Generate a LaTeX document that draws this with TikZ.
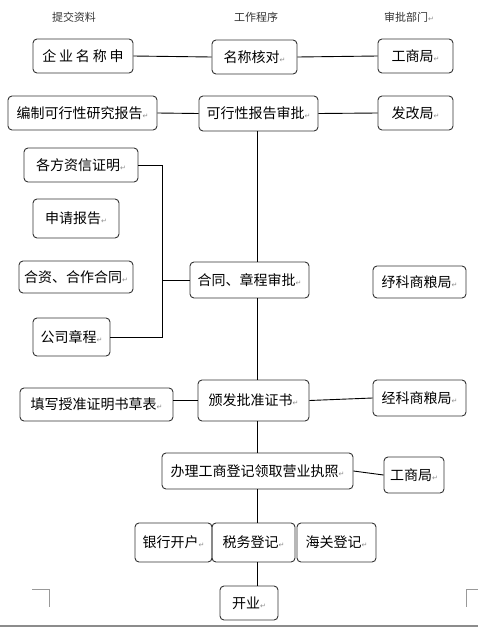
\documentclass[tikz,border=0pt]{standalone}
\usepackage{fontspec}
\newfontfamily\cjk{Noto Sans CJK SC}
\newfontfamily\symf{DejaVu Sans}
\newcommand{\ret}{{\symf\fontsize{7}{7}\selectfont\color{black!45}\char"21B5}}

\begin{document}
\begin{tikzpicture}[x=1pt,y=-1pt,
  b/.style={draw=black!80,line width=0.9pt,rounded corners=4pt,inner sep=0pt,font=\cjk\fontsize{14}{16}\selectfont},
  sz/.style 2 args={minimum width=#1pt,minimum height=#2pt},
  e/.style={draw=black,line width=0.9pt},
  hd/.style={font=\cjk\fontsize{11}{12}\selectfont,text=black!80,inner sep=0pt},
  mk/.style={draw=black!40,line width=0.8pt}]
  \useasboundingbox (0,0) rectangle (478,627);
  % column heads
  \node[hd] (h1) at (74,17) {提交资料};
  \node[hd] (h2) at (256,17) {工作程序};
  \node[hd] (h3) at (409,17) {审批部门\ret};
  % work steps
  \node[b,sz={85}{34}] (p1) at (254.5,57) {名称核对\ret};
  \node[b,sz={119}{35}] (p2) at (258.5,113.5) {可行性报告审批\ret};
  \node[b,sz={119}{36}] (p3) at (249.5,280) {合同、章程审批\ret};
  \node[b,sz={111}{41}] (p4) at (253.5,400.5) {颁发批准证书\ret};
  \node[b,sz={191}{36}] (p5) at (257.5,471) {办理工商登记领取营业执照\ret};
  \node[b,sz={77}{39}] (b1) at (173.5,542.5) {银行开户\ret};
  \node[b,sz={83}{39}] (b2) at (253.5,542.5) {税务登记\ret};
  \node[b,sz={79}{39}] (b3) at (336.5,542.5) {海关登记\ret};
  \node[b,sz={58}{34}] (p6) at (249,603) {开业\ret};
  % documents
  \node[b,sz={100}{34}] (n1) at (83,56) {\addfontfeature{LetterSpace=20}企业名称申};
  \node[b,sz={149}{34}] (n2) at (82.5,113) {编制可行性研究报告\ret};
  \node[b,sz={114}{34}] (m1) at (81,165) {各方资信证明\ret};
  \node[b,sz={86}{39}] (m2) at (76,218.5) {申请报告\ret};
  \node[b,sz={114}{32}] (m3) at (76,277) {合资、合作合同\ret};
  \node[b,sz={77}{38}] (m4) at (71.5,337) {公司章程\ret};
  \node[b,sz={153}{33}] (n5) at (96.5,404.5) {填写授准证明书草表\ret};
  % offices
  \node[b,sz={75}{34}] (d1) at (415.5,56) {工商局\ret};
  \node[b,sz={75}{34}] (d2) at (415.5,113) {发改局\ret};
  \node[b,sz={93}{32}] (d3) at (419.5,282) {纾科商粮局\ret};
  \node[b,sz={93}{36}] (d4) at (419.5,398) {经科商粮局\ret};
  \node[b,sz={60}{36}] (d5) at (414,475) {工商局\ret};
  % connectors
  \coordinate (sp) at (257,0);
  \coordinate (br) at (162,0);
  \draw[e] (n1.east) -- (p1.west);
  \draw[e] (p1.east) -- (d1.west);
  \draw[e] (n2.east) -- (p2.west);
  \draw[e] (p2.east) -- (d2.west);
  \draw[e] (p2.south -| sp) -- (p3.north -| sp);
  \draw[e] (m1.east) -| (m4.east -| br) -- (m4.east);
  \draw[e] (p3.west -| br) -- (p3.west);
  \draw[e] (p3.south -| sp) -- (p4.north -| sp);
  \draw[e] (p4.west -| n5.east) -- (p4.west);
  \draw[e] (p4.east) -- (d4.west);
  \draw[e] (p4.south -| sp) -- (p5.north -| sp);
  \draw[e] (p5.east) -- (d5.west);
  \draw[e] (p5.south -| sp) -- (b2.north -| sp);
  \draw[e] (b2.south -| sp) -- (p6.north -| sp);
  % page marks
  \draw[mk] (32,589) -- (49,589) -- (49,607);
  \draw[mk] (478,589) -- (466,589) -- (466,607);
  \draw[black!45,line width=1.5pt] (0,626) -- (478,626);
\end{tikzpicture}
\end{document}
